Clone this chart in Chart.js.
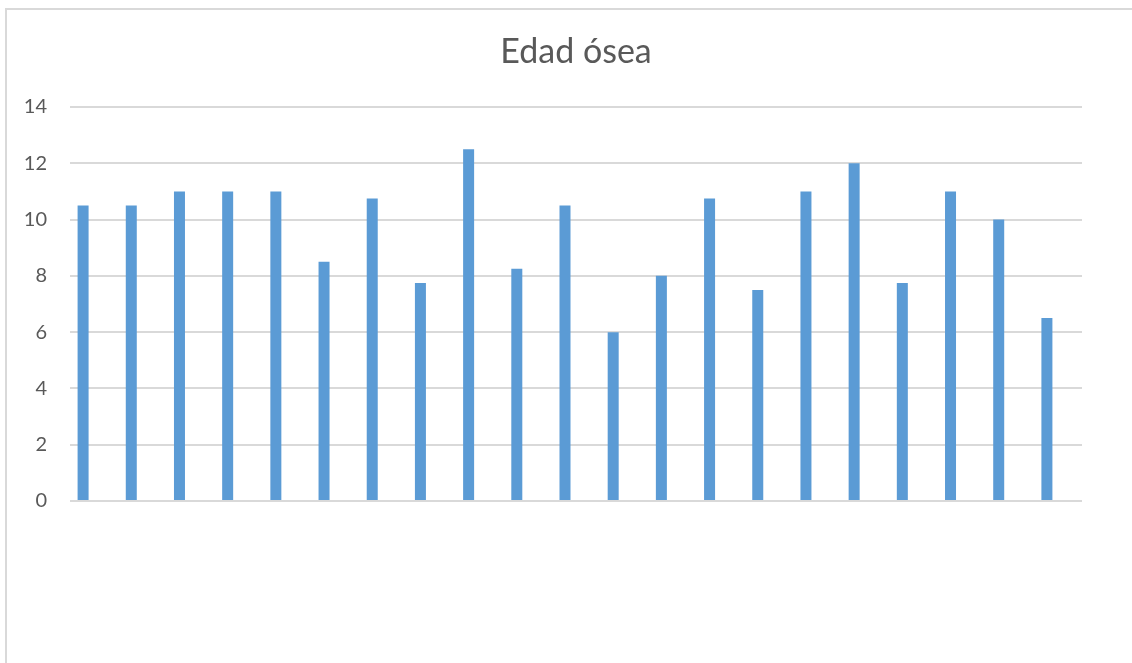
<!DOCTYPE html>
<html lang="es">
<head>
<meta charset="utf-8">
<title>Edad ósea</title>
<script src="https://cdn.jsdelivr.net/npm/chart.js@4/dist/chart.umd.min.js"></script>
<style>
  html, body { margin: 0; padding: 0; background: #ffffff; overflow: hidden; }
  #frame {
    position: absolute; left: 5px; top: 8px; width: 1140px; height: 700px;
    border-left: 2px solid #d9d9d9; border-top: 2px solid #d9d9d9;
  }
  #wrap { position: absolute; left: 0; top: 0; width: 1132px; height: 663px; }
</style>
</head>
<body>
<div id="frame"></div>
<div id="wrap"><canvas id="chart" width="1132" height="663"></canvas></div>
<script>
// Values of the chart
const chartTitle = 'Edad ósea';
const categories = ['1','2','3','4','5','6','7','8','9','10','11','12','13','14','15','16','17','18','19','20','21'];
const edadOsea = [10.5, 10.5, 11, 11, 11, 8.5, 10.75, 7.75, 12.5, 8.25, 10.5, 6, 8, 10.75, 7.5, 11, 12, 7.75, 11, 10, 6.5];
// Two further series of the sheet hold no values but keep their slot in each group
const serie2 = categories.map(() => null);
const serie3 = categories.map(() => null);
const yTicks = [0, 2, 4, 6, 8, 10, 12, 14];

const textColor = '#595959';
const gridColor = '#d9d9d9';
const barColor = '#5b9bd5';
const fontFamily = 'Lato, "Open Sans", "Liberation Sans", sans-serif';

new Chart(document.getElementById('chart'), {
  type: 'bar',
  data: {
    labels: categories,
    datasets: [
      { label: 'Edad ósea', data: edadOsea, backgroundColor: barColor, borderWidth: 0 },
      { label: 'Serie 2', data: serie2, backgroundColor: '#ed7d31', borderWidth: 0 },
      { label: 'Serie 3', data: serie3, backgroundColor: '#a5a5a5', borderWidth: 0 }
    ]
  },
  options: {
    responsive: false,
    animation: false,
    datasets: {
      bar: { categoryPercentage: 0.685, barPercentage: 1 }
    },
    layout: { padding: { left: 0, right: 50, top: 0, bottom: 162 } },
    plugins: {
      legend: { display: false },
      tooltip: { enabled: false },
      title: {
        display: true,
        fullSize: false,
        text: chartTitle,
        color: textColor,
        font: { family: fontFamily, size: 34, weight: 'normal' },
        padding: { top: 32, bottom: 34.2 }
      }
    },
    scales: {
      x: { display: false },
      y: {
        min: 0,
        max: 14,
        afterBuildTicks: (scale) => { scale.ticks = yTicks.map(v => ({ value: v })); },
        afterFit: (scale) => { scale.width = 70; },
        border: { display: false },
        grid: { color: gridColor, lineWidth: 2, drawTicks: false },
        ticks: {
          color: textColor,
          padding: 23,
          font: { family: fontFamily, size: 20 }
        }
      }
    }
  }
});
</script>
</body>
</html>
